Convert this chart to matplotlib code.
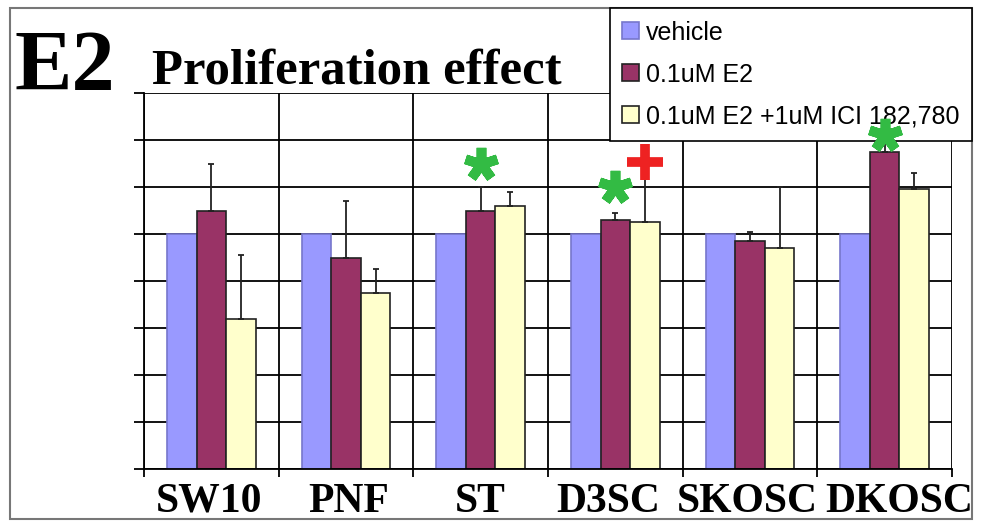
import matplotlib.pyplot as plt
import numpy as np
from matplotlib.markers import MarkerStyle
from matplotlib.patches import Rectangle
from matplotlib.transforms import blended_transform_factory

categories = ["SW10", "PNF", "ST", "D3SC", "SKOSC", "DKOSC"]
series_names = ["vehicle", "0.1uM E2", "0.1uM E2 +1uM ICI 182,780"]
vehicle = [1.0, 1.0, 1.0, 1.0, 1.0, 1.0]
e2 = [1.10, 0.90, 1.10, 1.06, 0.97, 1.35]
e2_ici = [0.64, 0.75, 1.12, 1.05, 0.94, 1.19]
e2_err = [0.20, 0.24, 0.10, 0.03, 0.04, 0.05]
e2_ici_err = [0.27, 0.10, 0.06, 0.19, 0.26, 0.07]
colors = ["#9999FF", "#993366", "#FFFFCC"]

# significance marks: (category index, series index, y)
green_stars = [(2, 1, 1.30), (3, 1, 1.20), (5, 1, 1.42)]
red_plus = [(3, 2, 1.305)]


def main() -> None:
    W, H = 992, 523
    fig = plt.figure(figsize=(W / 100, H / 100), dpi=100)
    fig.patch.set_facecolor("white")
    ax = fig.add_axes([144 / W, 1 - 469 / H, (952 - 144) / W, (469 - 93) / H])

    x = np.arange(len(categories)) + 0.5
    bw = 0.22
    vals = [vehicle, e2, e2_ici]
    errs = [None, e2_err, e2_ici_err]
    edges = ["#7777CC", "#222222", "#222222"]
    for i, (v, c) in enumerate(zip(vals, colors)):
        pos = x + (i - 1) * bw
        ax.bar(pos, v, width=bw, color=c, edgecolor=edges[i], linewidth=1.2,
               label=series_names[i], zorder=2)
        if errs[i] is not None:
            ax.errorbar(pos, v, yerr=[np.zeros(len(v)), errs[i]], fmt="none",
                        ecolor="#222222", elinewidth=1.3, capsize=2.5,
                        capthick=1.3, zorder=3)

    star = MarkerStyle((5, 2, 0), capstyle="round")
    for ci, si, y in green_stars:
        ax.plot(x[ci] + (si - 1) * bw, y, marker=star, markersize=24,
                markeredgewidth=7, color="#33BB44", zorder=20, clip_on=False)
    for ci, si, y in red_plus:
        ax.plot(x[ci] + (si - 1) * bw, y, marker="+", markersize=26,
                markeredgewidth=7, color="#EE2222", zorder=20, clip_on=False)

    ax.set_xlim(0, len(categories))
    ax.set_ylim(0, 1.6)
    ax.set_yticks(np.arange(0, 1.61, 0.2))
    ax.set_yticklabels([])
    ax.set_xticks(np.arange(len(categories) + 1))
    ax.set_xticklabels([])
    ax.tick_params(axis="x", which="major", length=6, width=1.3, direction="out")
    ax.tick_params(axis="y", length=7, width=1.3, direction="out")
    ax.grid(True, which="major", color="black", linewidth=1.3)
    ax.set_axisbelow(True)
    for s in ["top", "right"]:
        ax.spines[s].set_visible(False)
    for s in ["left", "bottom"]:
        ax.spines[s].set_linewidth(1.3)

    # category labels, nudged a little like the original
    label_shift = [-0.015, 0.02, 0.0, -0.05, -0.02, 0.11]
    tr = blended_transform_factory(ax.transData, fig.transFigure)
    for xi, name, dx in zip(x, categories, label_shift):
        ax.text(xi + dx, 1 - 512 / H, name, transform=tr, ha="center",
                va="baseline", fontsize=30, fontweight="bold",
                family="Liberation Serif", clip_on=False)

    fig.text(15 / W, 1 - 90 / H, "E2", fontsize=62, fontweight="bold",
             family="Liberation Serif", va="baseline")
    fig.text(152 / W, 1 - 83 / H, "Proliferation effect", fontsize=36.5,
             fontweight="bold", family="Liberation Serif", va="baseline")

    leg = ax.legend(loc="upper right", bbox_to_anchor=(972 / W, 1 - 8 / H),
                    bbox_transform=fig.transFigure, borderaxespad=0,
                    prop={"family": "Liberation Sans", "size": 18},
                    fancybox=False, framealpha=1, edgecolor="black",
                    handlelength=0.68, handleheight=0.68, handletextpad=0.28,
                    labelspacing=0.72, borderpad=0.5)
    leg.get_frame().set_linewidth(1.2)
    leg.set_zorder(10)

    fig.add_artist(Rectangle((10 / W, 1 - 519 / H), (972 - 10) / W, (519 - 8) / H,
                             transform=fig.transFigure, fill=False,
                             edgecolor="#777777", linewidth=1.5, zorder=0))

    fig.savefig("out.png", dpi=100)


if __name__ == "__main__":
    main()
